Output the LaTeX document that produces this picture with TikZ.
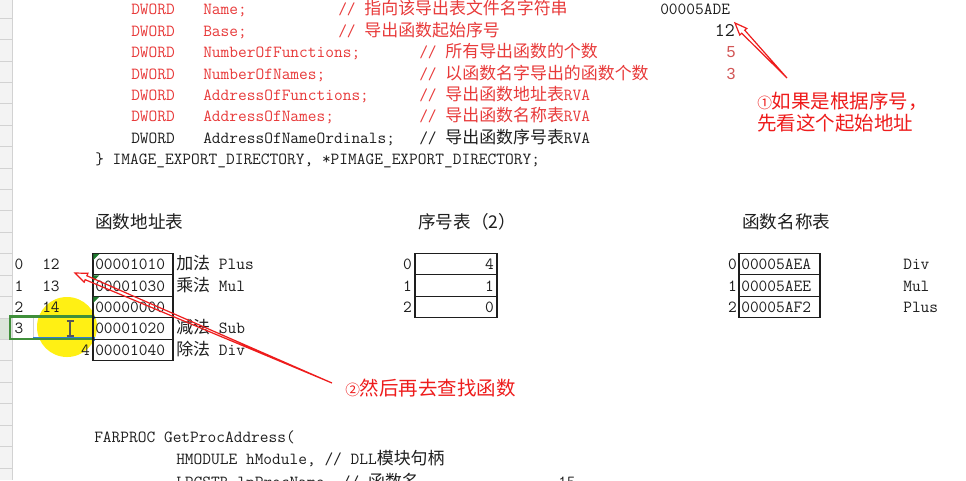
\documentclass[tikz,border=0pt]{standalone}
\usepackage{fontspec}
\usepackage{xcolor}
\usetikzlibrary{calc}
\newcommand\code{\ttfamily}
\newfontfamily\cjk{Noto Sans CJK SC}
\newfontfamily\numsf{Liberation Sans}
\definecolor{ink}{HTML}{1E1E1E}
\definecolor{codeRed}{HTML}{E83A3A}
\definecolor{valRed}{HTML}{D25656}
\definecolor{noteRed}{HTML}{EE1C1C}
\definecolor{selGreen}{HTML}{3F8F3A}
\definecolor{selBlue}{HTML}{2E7FD8}
\definecolor{hdrFill}{HTML}{F3F3F3}
\definecolor{hdrSel}{HTML}{DCE5DA}
\definecolor{hdrLine}{HTML}{D2D2D2}
\definecolor{spot}{HTML}{FFF014}
\definecolor{flag}{HTML}{1E7A2E}
\tikzset{
  tc/.style={inner sep=0pt, anchor=west, text height=10pt, text depth=3pt, font=\code\fontsize{12.7}{16}\selectfont, text=ink},
  tcr/.style={tc, text=codeRed},
  tce/.style={tc, anchor=east},
  tcm/.style={tc, anchor=center},
  tv/.style={inner sep=0pt, font=\numsf\fontsize{12}{14}\selectfont, text=valRed},
  tz/.style={inner sep=0pt, anchor=west, font=\cjk\fontsize{13.2}{16}\selectfont, text=ink},
  note/.style={inner sep=0pt, anchor=west, align=left, font=\cjk\fontsize{14.6}{16.5}\selectfont, text=noteRed},
  grid/.style={draw=ink, line width=0.8pt},
  hollow/.style={draw=noteRed, line width=0.9pt, line join=miter},
}
% hollow tapered pointer: tail, tip
\newcommand\pointer[2]{%
  \coordinate (hb) at ($(#2)!9pt!(#1)$);
  \draw[hollow] (#1) -- ($(hb)!1.6pt!90:(#2)$) -- ($(hb)!3.6pt!90:(#2)$) -- (#2)
    -- ($(hb)!3.6pt!-90:(#2)$) -- ($(hb)!1.6pt!-90:(#2)$) -- cycle;
}
\begin{document}
\begin{tikzpicture}[x=0.75pt, y=-0.75pt]
  \fill[white] (0,0) rectangle (966,480);
  \clip (0,0) rectangle (966,480);

  % sheet row header
  \fill[hdrFill] (0,0) rectangle (12,480);
  \fill[hdrSel] (0,317.8) rectangle (12,339.2);
  \foreach \k in {0,...,22} \draw[hdrLine, line width=0.5pt] (0,{18+21.42*\k}) -- (12,{18+21.42*\k});
  \draw[hdrLine, line width=0.6pt] (12,0) -- (12,480);

  % export directory struct
  \foreach \y/\fld/\cx/\cmt [count=\i] in {
      10/Name;/338/\cjk 指向该导出表文件名字符串,
      31.5/Base;/338/\cjk 导出函数起始序号,
      53/NumberOfFunctions;/419/\cjk 所有导出函数的个数,
      74.5/NumberOfNames;/419/\cjk 以函数名字导出的函数个数,
      96/AddressOfFunctions;/419/\cjk 导出函数地址表\code RVA,
      117/AddressOfNames;/419/\cjk 导出函数名称表\code RVA} {
    \node[tcr] (dw\i) at (131,\y) {DWORD};
    \node[tcr] (fld\i) at (203,\y) {\fld};
    \node[tcr] (cm\i) at (\cx,\y) {// \cmt};
  }
  \node[tc] (dw7) at (131,138.5) {DWORD};
  \node[tc] (fld7) at (203,138.5) {AddressOfNameOrdinals;};
  \node[tc] (cm7) at (419,138.5) {// \cjk 导出函数序号表\code RVA};
  \node[tc] (close) at (95,159.5) {\} IMAGE\_EXPORT\_DIRECTORY, *PIMAGE\_EXPORT\_DIRECTORY;};

  \node[tc] (nameVal) at (660,10) {00005ADE};
  \node[tce, font=\code\fontsize{14.5}{18}\selectfont] (baseVal) at (735,31.5) {12};
  \node[tv] (fnCount) at (731,52) {5};
  \node[tv] (nmCount) at (731,73.5) {3};

  % titles
  \node[tz] (addrTitle) at (95,222) {函数地址表};
  \node[tz] (ordTitle) at (418,222) {序号表（2）};
  \node[tz] (nameTitle) at (742,222) {函数名称表};

  % cell highlight and selection
  \fill[spot] (67,327) circle (30);
  \draw[hdrLine, line width=0.6pt] (33,317) -- (33,338);
  \draw[selBlue, line width=1.2pt] (33,337.6) -- (93,337.6);
  \draw[selGreen, line width=1.6pt] (10,316.5) rectangle (93,338.6);
  \fill[selBlue] (91.5,315.5) rectangle (95,319);
  \fill[selBlue] (91.5,337) rectangle (95,340.5);
  \draw[ink!75, line width=0.8pt] (70,321) -- (70,336) (66.5,321) -- (73.5,321) (66.5,336) -- (73.5,336);

  % address table
  \foreach \r/\v/\lab in {0/00001010/{\cjk 加法} Plus, 1/00001030/{\cjk 乘法} Mul, 2/00000000/{},
      3/00001020/{\cjk 减法} Sub, 4/00001040/{\cjk 除法} Div} {
    \draw[grid] (93,{253.5+21.42*\r}) rectangle (173,{253.5+21.42*(\r+1)});
    \node[tc] (addr\r) at (95,{265+21.42*\r}) {\v};
    \node[tc] (fn\r) at (176,{265+21.42*\r}) {\lab};
  }
  \foreach \r in {0,1,2} \fill[flag] (93.4,{253.9+21.42*\r}) -- ++(6,0) -- ++(-6,6) -- cycle;
  \foreach \r/\v in {0/12, 1/13, 2/14} {
    \node[tcm] (idx\r) at (19,{265+21.42*\r}) {\r};
    \node[tc] (slot\r) at (42,{265+21.42*\r}) {\v};
  }
  \node[tcm] (idx3) at (19,329.3) {3};
  \node[tce] (slot4) at (90,350.7) {4};

  % ordinal table
  \foreach \r/\v in {0/4, 1/1, 2/0} {
    \draw[grid] (415,{253.5+21.42*\r}) rectangle (497,{253.5+21.42*(\r+1)});
    \node[tce] (oi\r) at (412,{265+21.42*\r}) {\r};
    \node[tce] (ord\r) at (494,{265+21.42*\r}) {\v};
  }

  % name table
  \foreach \r/\v/\n in {0/00005AEA/Div, 1/00005AEE/Mul, 2/00005AF2/Plus} {
    \draw[grid] (739,{253.5+21.42*\r}) rectangle (820,{253.5+21.42*(\r+1)});
    \node[tce] (ni\r) at (737,{265+21.42*\r}) {\r};
    \node[tc] (nrva\r) at (741,{265+21.42*\r}) {\v};
    \node[tc] (nm\r) at (903,{265+21.42*\r}) {\n};
  }

  % GetProcAddress
  \node[tc] (farproc) at (94,437.5) {FARPROC GetProcAddress(};
  \node[tc] (hmod) at (176,460) {HMODULE hModule, // DLL\cjk 模块句柄};
  \node[tc] (lpname) at (176,482.5) {LPCSTR lpProcName, // \cjk 函数名};
  \node[tc] (fifteen) at (558,482.5) {15};

  % notes
  \node[note] (note1) at (757,112) {{\fontsize{11}{12}\selectfont ①}如果是根据序号，\\先看这个起始地址};
  \node[note] (note2) at (345,388) {{\fontsize{11}{12}\selectfont ②}然后再去查找函数};
  \coordinate (tail1) at (787,78);
  \coordinate (tip1) at (735,23);
  \coordinate (tail2) at (332,383);
  \coordinate (tip2) at (75,273);
  \pointer{tail1}{tip1}
  \pointer{tail2}{tip2}
\end{tikzpicture}
\end{document}
